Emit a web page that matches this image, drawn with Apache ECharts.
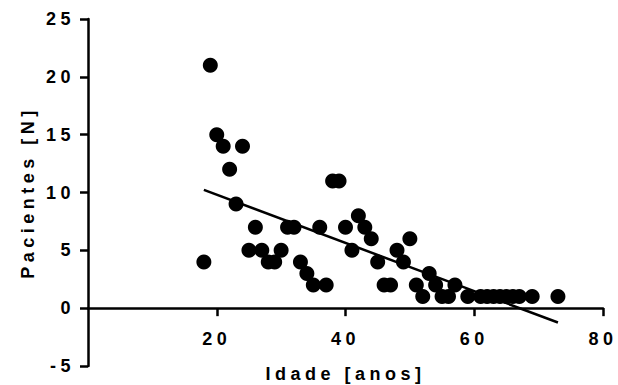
<!DOCTYPE html>
<html>
<head>
<meta charset="utf-8">
<script src="https://cdn.jsdelivr.net/npm/echarts@6/dist/echarts.min.js"></script>
<style>
html,body{margin:0;padding:0;background:#ffffff;}
#chart{width:618px;height:385px;}
#chart text{letter-spacing:4.5px;}
</style>
</head>
<body>
<div id="chart"></div>
<script>
// Data
const ages = [18,19,20,21,22,23,24,25,26,27,28,29,30,31,32,33,34,35,36,37,38,39,40,41,42,43,44,45,46,47,48,49,50,51,52,53,54,55,56,57,59,61,62,63,64,65,66,67,69,73];
const patients = [4,21,15,14,12,9,14,5,7,5,4,4,5,7,7,4,3,2,7,2,11,11,7,5,8,7,6,4,2,2,5,4,6,2,1,3,2,1,1,2,1,1,1,1,1,1,1,1,1,1];
const xTicks = [0,20,40,60,80];
const yTicks = [-5,0,5,10,15,20,25];
const xTitle = 'Idade [anos]';
const yTitle = 'Pacientes [N]';

// Linear regression of the data
const n = ages.length;
const mx = ages.reduce((a,b)=>a+b,0)/n;
const my = patients.reduce((a,b)=>a+b,0)/n;
let sxy = 0, sxx = 0;
for (let i=0;i<n;i++){ sxy += (ages[i]-mx)*(patients[i]-my); sxx += (ages[i]-mx)*(ages[i]-mx); }
const slope = sxy/sxx, icpt = my - slope*mx;
const xMinD = Math.min(...ages), xMaxD = Math.max(...ages);
const fitLine = [[xMinD, icpt+slope*xMinD],[xMaxD, icpt+slope*xMaxD]];

const points = ages.map((a,i)=>[a, patients[i]]);
const font = "'Liberation Sans', Arial, sans-serif";

// Layout: main grid, and a second grid whose bottom edge sits at y = 0 of the main grid
const W = 618, H = 385;
const gTop = 19, gBottom = 19, gLeft = 88, gRight = 15;
const yMin = yTicks[0], yMax = yTicks[yTicks.length-1];
const plotH = H - gTop - gBottom;
const zeroPx = gTop + plotH * (yMax - 0) / (yMax - yMin);
const g2Bottom = H - zeroPx;

const txt = {color:'#000', fontSize:18, fontWeight:'bold', fontFamily:font};
const axisLn = {color:'#000', width:2.5};

const chart = echarts.init(document.getElementById('chart'), null, {renderer:'svg'});
chart.setOption({
  animation:false,
  backgroundColor:'#ffffff',
  grid:[
    {left:gLeft, right:gRight, top:gTop, bottom:gBottom, containLabel:false, outerBoundsMode:'none'},
    {left:gLeft, right:gRight, top:gTop, bottom:g2Bottom, containLabel:false, outerBoundsMode:'none'}
  ],
  xAxis:[
    {gridIndex:0, type:'value', min:xTicks[0], max:xTicks[xTicks.length-1], interval:xTicks[1]-xTicks[0],
     show:false, axisLine:{onZero:false}},
    {gridIndex:1, type:'value', min:xTicks[0], max:xTicks[xTicks.length-1], interval:xTicks[1]-xTicks[0],
     position:'bottom',
     name:xTitle, nameLocation:'middle', nameGap:57, nameTextStyle:txt,
     axisLine:{show:true, onZero:false, lineStyle:axisLn},
     axisTick:{show:true, length:8, inside:false, lineStyle:axisLn},
     axisLabel:Object.assign({show:true, showMinLabel:false, margin:22}, txt),
     splitLine:{show:false}}
  ],
  yAxis:[
    {gridIndex:0, type:'value', min:yMin, max:yMax, interval:yTicks[1]-yTicks[0],
     name:yTitle, nameLocation:'middle', nameGap:51, nameTextStyle:txt,
     axisLine:{show:true, onZero:false, lineStyle:axisLn},
     axisTick:{show:true, length:8, inside:false, lineStyle:axisLn},
     axisLabel:Object.assign({show:true, margin:13}, txt),
     splitLine:{show:false}},
    {gridIndex:1, type:'value', min:0, max:1, show:false, axisLine:{onZero:false}}
  ],
  series:[
    {type:'scatter', xAxisIndex:0, yAxisIndex:0, data:points, symbol:'circle', symbolSize:15, itemStyle:{color:'#000', opacity:1}, z:2},
    {type:'line', xAxisIndex:0, yAxisIndex:0, data:fitLine, symbol:'none', lineStyle:{color:'#000', width:2.5}, z:3}
  ]
});
</script>
</body>
</html>
